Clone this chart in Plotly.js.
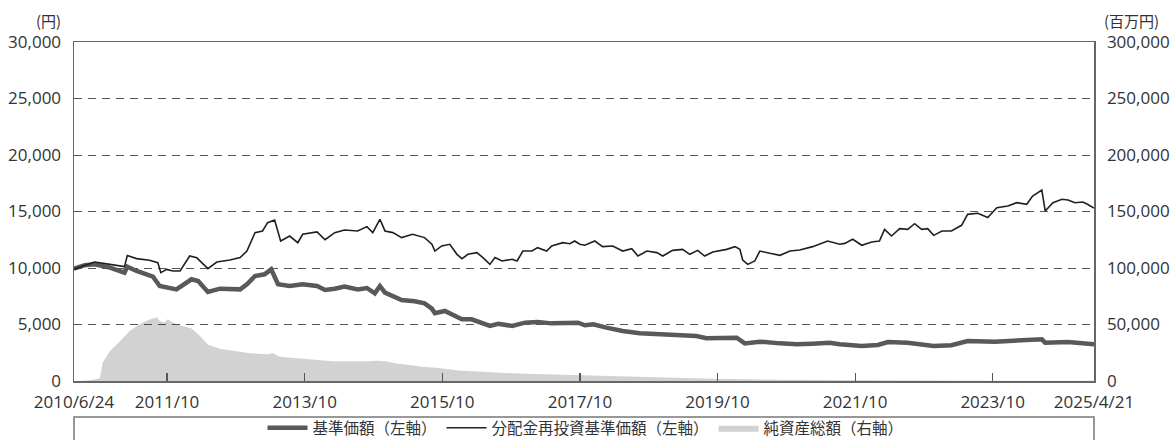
<!DOCTYPE html>
<html>
<head>
<meta charset="utf-8">
<script src="https://cdn.plot.ly/plotly-3.0.1.min.js"></script>
<style>html,body{margin:0;padding:0;background:#fff;}#chart{width:1171px;height:440px;}</style>
</head>
<body>
<div id="chart"></div>
<script>
// 基準価額（左軸, 円）
const navDates = ['2010-06-24','2010-08-20','2010-10-11','2011-01-01','2011-03-19','2011-04-03','2011-05-22','2011-08-17','2011-09-22','2011-10-29','2011-12-20','2012-03-09','2012-04-13','2012-06-04','2012-08-07','2012-11-22','2012-12-28','2013-02-09','2013-04-01','2013-05-06','2013-06-11','2013-08-12','2013-10-20','2014-01-04','2014-02-16','2014-04-08','2014-05-30','2014-08-08','2014-09-26','2014-11-07','2014-12-04','2014-12-31','2015-02-05','2015-03-29','2015-06-07','2015-07-29','2015-09-06','2015-09-22','2015-11-14','2015-12-19','2016-02-12','2016-04-04','2016-05-26','2016-07-10','2016-08-23','2016-11-05','2017-01-12','2017-03-20','2017-06-03','2017-08-11','2017-10-21','2017-11-26','2018-01-10','2018-03-20','2018-06-15','2018-09-14','2019-01-14','2019-04-29','2019-07-11','2019-09-03','2019-11-30','2020-02-10','2020-03-24','2020-06-12','2020-09-27','2020-12-24','2021-03-19','2021-06-18','2021-08-10','2021-12-05','2022-02-28','2022-04-23','2022-08-06','2022-12-22','2023-03-26','2023-06-20','2023-11-12','2024-01-20','2024-05-01','2024-07-18','2024-08-05','2024-12-04','2025-04-21'];
const navValues = [9940,10250,10320,10030,9590,10120,9735,9230,8410,8260,8110,9000,8850,7880,8170,8110,8560,9290,9440,9880,8560,8410,8560,8410,8050,8170,8350,8110,8230,7760,8410,7820,7580,7170,7050,6870,6400,5990,6200,5900,5460,5460,5160,4870,5070,4870,5160,5220,5100,5160,5160,4930,5015,4720,4425,4220,4130,4130,3980,3780,3780,3835,3330,3480,3330,3245,3300,3390,3245,3100,3190,3450,3390,3100,3160,3540,3480,3540,3600,3690,3390,3450,3245];

// 分配金再投資基準価額（左軸, 円）
const reinvDates = ['2010-06-24','2010-08-20','2010-10-11','2011-01-01','2011-03-19','2011-04-03','2011-05-22','2011-07-30','2011-09-12','2011-09-28','2011-10-29','2011-12-01','2012-01-08','2012-02-28','2012-04-06','2012-06-04','2012-07-21','2012-09-29','2012-11-22','2012-12-28','2013-02-09','2013-03-21','2013-04-17','2013-05-24','2013-06-25','2013-08-12','2013-09-24','2013-10-20','2014-01-04','2014-02-16','2014-03-12','2014-04-08','2014-05-30','2014-08-08','2014-09-26','2014-10-27','2014-12-04','2014-12-31','2015-02-11','2015-03-29','2015-05-26','2015-07-29','2015-09-06','2015-09-22','2015-10-28','2015-12-10','2016-01-17','2016-02-13','2016-03-15','2016-05-02','2016-06-03','2016-07-10','2016-08-06','2016-09-12','2016-11-05','2016-12-01','2017-01-01','2017-02-18','2017-03-20','2017-05-07','2017-06-03','2017-08-01','2017-09-07','2017-10-03','2017-10-30','2017-11-26','2018-01-18','2018-02-28','2018-04-23','2018-06-15','2018-08-02','2018-09-04','2018-10-21','2018-12-13','2019-01-14','2019-03-07','2019-04-29','2019-06-06','2019-07-18','2019-08-24','2019-10-06','2019-12-19','2020-02-01','2020-02-27','2020-03-13','2020-04-09','2020-05-16','2020-06-12','2020-08-04','2020-09-27','2020-11-19','2021-01-10','2021-03-19','2021-06-07','2021-08-10','2021-09-06','2021-10-18','2021-12-05','2022-01-27','2022-03-09','2022-04-05','2022-05-12','2022-06-24','2022-08-06','2022-09-12','2022-10-19','2022-11-20','2022-12-22','2023-02-04','2023-03-26','2023-05-19','2023-06-20','2023-08-13','2023-10-05','2023-11-22','2024-01-20','2024-03-07','2024-04-29','2024-05-30','2024-07-18','2024-08-05','2024-09-15','2024-11-02','2024-12-04','2025-01-10','2025-02-21','2025-03-17','2025-04-21'];
const reinvValues = [9900,10250,10530,10320,10120,11100,10830,10680,10470,9590,9880,9735,9735,11060,10900,9940,10530,10710,10920,11500,13130,13280,14010,14250,12390,12830,12240,12980,13190,12500,12830,13130,13360,13280,13660,13130,14310,13280,13130,12690,12980,12690,12100,11500,11950,12100,11210,10830,11210,11360,10920,10320,10920,10620,10770,10620,11500,11500,11800,11500,11950,12240,12150,12390,12100,12010,12390,11890,11950,11500,11710,11060,11500,11360,11060,11560,11650,11210,11560,11060,11420,11650,11890,11650,10710,10320,10620,11500,11300,11120,11500,11590,11890,12390,12100,12180,12540,12010,12300,12390,13420,12830,13480,13420,13920,13420,13480,12890,13275,13275,13780,14750,14840,14460,15340,15490,15780,15640,16370,16900,15045,15780,16080,16020,15780,15840,15640,15300];

// 純資産総額（右軸, 百万円）
const assetDates = ['2010-06-24','2010-08-19','2010-10-17','2010-11-08','2010-11-23','2011-01-01','2011-02-22','2011-04-14','2011-06-05','2011-07-30','2011-09-07','2011-09-22','2011-10-18','2011-11-03','2011-12-20','2012-02-14','2012-03-09','2012-04-22','2012-06-04','2012-08-07','2012-10-15','2013-01-13','2013-04-17','2013-05-13','2013-06-20','2013-10-04','2014-01-20','2014-03-28','2014-09-26','2014-11-23','2014-12-31','2015-03-03','2015-07-29','2015-10-02','2016-01-22','2016-07-20','2016-11-05','2017-01-12','2017-07-05','2017-10-30','2018-10-21','2019-10-06','2020-09-27','2021-08-10','2022-10-09','2023-12-08','2025-04-21'];
const assetValues = [0,300,1500,2400,16200,26500,35000,44000,50000,54500,56500,53000,51600,54600,50200,47500,46500,40000,32000,28500,26600,24500,23600,24800,21500,19800,18300,17500,17400,18000,17500,15500,12500,11800,9200,7400,6800,6400,5600,5000,3500,2000,1200,600,400,300,250];

const tickDates = ['2010-06-24','2011-10-31','2013-10-31','2015-10-31','2017-10-31','2019-10-31','2021-10-31','2023-10-31','2025-04-21'];
const tickLabels = ['2010/6/24','2011/10','2013/10','2015/10','2017/10','2019/10','2021/10','2023/10','2025/4/21'];
const leftTicks = [0,5000,10000,15000,20000,25000,30000];
const rightTicks = [0,50000,100000,150000,200000,250000,300000];
const seriesNames = ['基準価額（左軸）','分配金再投資基準価額（左軸）','純資産総額（右軸）'];

const numFont = {family:'Open Sans, Noto Sans CJK JP', size:17, color:'#333333'};
const jpFont = {family:'Noto Sans CJK JP', size:15.5, color:'#333333'};
const unitFont = {family:'Noto Sans CJK JP', size:15, color:'#333333'};

const traces = [
  {x: assetDates, y: assetValues, yaxis:'y2', type:'scatter', mode:'lines', name: seriesNames[2],
   fill:'tozeroy', fillcolor:'rgba(35,31,32,0.2)', line:{width:0, color:'rgba(35,31,32,0.2)'}, legendrank:3, hoverinfo:'skip'},
  {x: navDates, y: navValues, type:'scatter', mode:'lines', name: seriesNames[0],
   line:{color:'#58595b', width:4.5}, legendrank:1},
  {x: reinvDates, y: reinvValues, type:'scatter', mode:'lines', name: seriesNames[1],
   line:{color:'#231f20', width:1.6}, legendrank:2}
];

const layout = {
  width:1171, height:440,
  margin:{l:74, r:77, t:42, b:59, pad:0, autoexpand:false},
  paper_bgcolor:'#ffffff', plot_bgcolor:'rgba(0,0,0,0)',
  showlegend:true,
  legend:{orientation:'h', x:0.5, xanchor:'center', xref:'container', y:0.027, yanchor:'middle', yref:'container',
          font:jpFont, bgcolor:'rgba(0,0,0,0)', borderwidth:0, itemwidth:40, traceorder:'normal'},
  xaxis:{type:'date', range:['2010-06-24','2025-04-21'], tickmode:'array', tickvals:tickDates, ticktext:tickLabels,
         ticks:'inside', ticklen:8, tickwidth:1.3, tickcolor:'#555555', showgrid:false, zeroline:false,
         showline:true, linecolor:'#666666', linewidth:1.5, mirror:true, tickfont:numFont, automargin:false,
         ticklabelstandoff:5},
  yaxis:{range:[0,30000], tickmode:'array', tickvals:leftTicks, tickformat:',d', tickfont:numFont,
         showgrid:true, gridcolor:'#555555', gridwidth:1, griddash:'8px,6px', zeroline:false,
         showline:true, linecolor:'#666666', linewidth:1.5, ticks:'', automargin:false, ticklabelstandoff:8},
  yaxis2:{range:[0,300000], overlaying:'y', side:'right', tickmode:'array', tickvals:rightTicks, tickformat:',d',
          tickfont:numFont, showgrid:false, zeroline:false, showline:true, linecolor:'#666666', linewidth:1.5,
          ticks:'', automargin:false, ticklabelstandoff:8},
  shapes:[
    {type:'rect', xref:'paper', yref:'paper', x0:0, x1:1, y0:-0.2, y1:-0.106,
     line:{color:'#777777', width:1.5}, fillcolor:'rgba(0,0,0,0)', layer:'below'}
  ],
  annotations:[
    {xref:'paper', yref:'paper', x:0, y:1, xanchor:'right', yanchor:'middle', xshift:-11, yshift:22,
     text:'(円)', showarrow:false, font:unitFont},
    {xref:'paper', yref:'paper', x:1, y:1, xanchor:'left', yanchor:'middle', xshift:8, yshift:22,
     text:'(百万円)', showarrow:false, font:unitFont}
  ]
};

Plotly.newPlot('chart', traces, layout, {staticPlot:true, displayModeBar:false});
</script>
</body>
</html>
